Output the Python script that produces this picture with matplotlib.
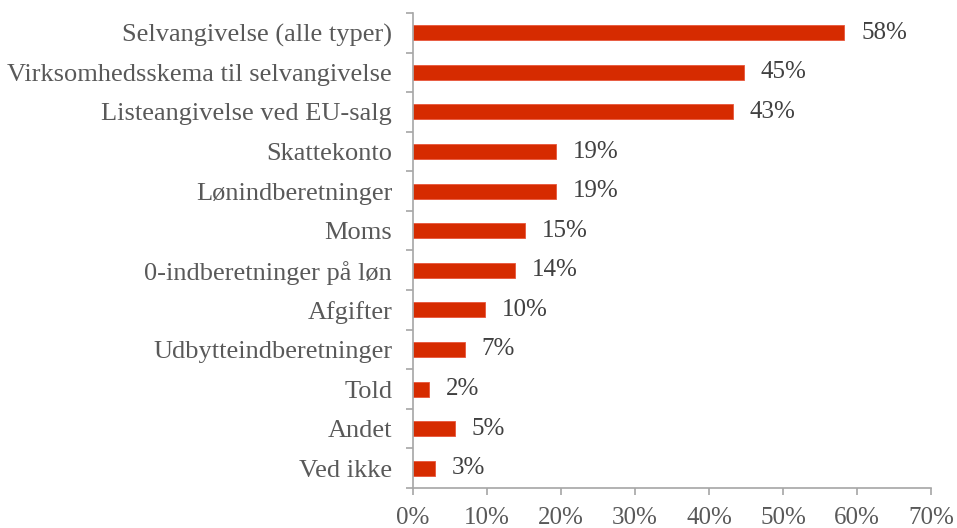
import numpy as np
import matplotlib.pyplot as plt

plt.rcParams['font.family'] = ['Liberation Serif', 'DejaVu Serif']

## Data
categories = ['Selvangivelse (alle typer)', 'Virksomhedsskema til selvangivelse',
              'Listeangivelse ved EU-salg', 'Skattekonto', 'Lønindberetninger', 'Moms',
              '0-indberetninger på løn', 'Afgifter', 'Udbytteindberetninger', 'Told',
              'Andet', 'Ved ikke']
values = [58.3, 44.7, 43.2, 19.3, 19.3, 15.1, 13.8, 9.7, 7.0, 2.2, 5.7, 3.0]
labels = ['58%', '45%', '43%', '19%', '19%', '15%', '14%', '10%', '7%', '2%', '5%', '3%']
xticks = [0, 10, 20, 30, 40, 50, 60, 70]

bar_color = '#D62B00'
axis_color = '#A6A6A6'
text_color = '#595959'

fig = plt.figure(figsize=(9.57, 5.28), dpi=100)
ax = fig.add_axes([0.4316, 0.0758, 0.5413, 0.8996])

y = np.arange(len(categories))
ax.barh(y, values, height=0.38, color=bar_color, edgecolor='#E8553A', linewidth=0.6)

for yi, v, lab in zip(y, values, labels):
    ax.annotate(lab, (v, yi), xytext=(12, 0), textcoords='offset points',
                va='center', ha='left', fontsize=18, color='#404040')

ax.set_xlim(0, 70)
ax.set_ylim(len(categories) - 0.5, -0.5)
ax.set_xticks(xticks)
ax.set_xticklabels([f'{t}%' for t in xticks], fontsize=18, color=text_color)

ax.set_yticks(y)
ax.set_yticklabels(categories, fontsize=19, color=text_color)
ax.set_yticks(np.arange(len(categories) + 1) - 0.5, minor=True)
ax.tick_params(axis='y', which='major', length=0, pad=15)
ax.tick_params(axis='y', which='minor', length=5, color=axis_color, width=1.2)
ax.tick_params(axis='x', length=5, color=axis_color, width=1.2, pad=9)

for s in ['top', 'right']:
    ax.spines[s].set_visible(False)
for s in ['left', 'bottom']:
    ax.spines[s].set_color(axis_color)
    ax.spines[s].set_linewidth(1.2)

plt.savefig('out.png', dpi=100)
